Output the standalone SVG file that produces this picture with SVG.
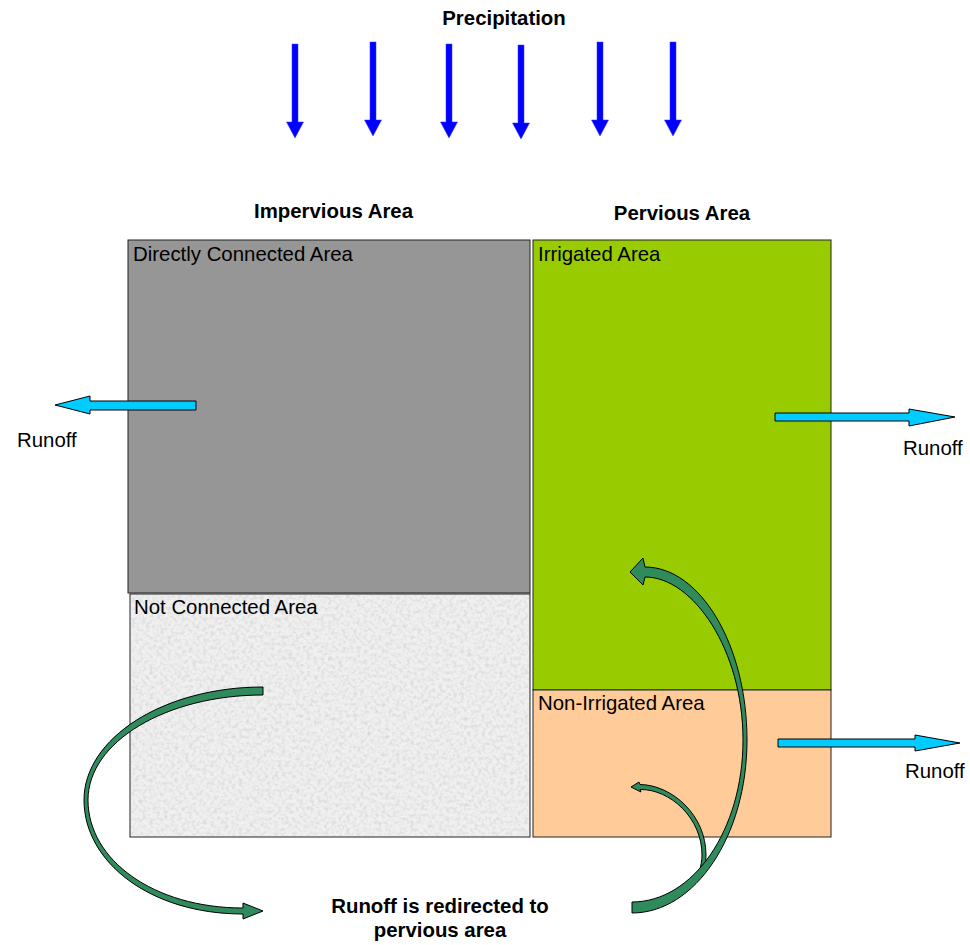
<svg xmlns="http://www.w3.org/2000/svg" width="970" height="945" viewBox="0 0 970 945">
<style>
.t{font-family:"Liberation Sans",Arial,sans-serif;font-size:20.4px;fill:#000}
.b{font-weight:bold}
.box{stroke:#222;stroke-width:1}
.rain{fill:#0000ff;stroke:#3333ff;stroke-width:0.5}
.run{fill:#00ccff;stroke:#000;stroke-width:1}
.curve{fill:#2f8a5c;stroke:#000;stroke-width:1}
</style>
<defs>
<filter id="noise" x="0" y="0" width="100%" height="100%">
<feTurbulence type="fractalNoise" baseFrequency="0.28" numOctaves="3" seed="7" result="n"/>
<feColorMatrix in="n" type="matrix" values="0 0 0 0 0.6  0 0 0 0 0.6  0 0 0 0 0.6  1.4 0 0 0 -0.58"/>
</filter>
<path id="drop" d="M-3,0 L3,0 L3,78 L8.5,78 L0,94 L-8.5,78 L-3,78 Z"/>
</defs>

<g id="precipitation">
<text class="t b" x="504" y="25" text-anchor="middle">Precipitation</text>
<use href="#drop" class="rain" x="295" y="44"/>
<use href="#drop" class="rain" x="373" y="42"/>
<use href="#drop" class="rain" x="449" y="44"/>
<use href="#drop" class="rain" x="521" y="45"/>
<use href="#drop" class="rain" x="600" y="42"/>
<use href="#drop" class="rain" x="673" y="42"/>
</g>

<g id="titles">
<text class="t b" x="333.5" y="218" text-anchor="middle">Impervious Area</text>
<text class="t b" x="682" y="220" text-anchor="middle">Pervious Area</text>
</g>

<g id="directly-connected">
<rect class="box" x="128" y="240" width="402" height="353" fill="#969696"/>
<text class="t" x="133" y="261">Directly Connected Area</text>
</g>

<g id="not-connected">
<rect class="box" x="130" y="594" width="400" height="243" fill="#f0f0f0"/>
<rect x="131" y="595" width="398" height="241" fill="#fff" filter="url(#noise)"/>
<text class="t" x="134" y="614">Not Connected Area</text>
</g>

<g id="irrigated">
<rect class="box" x="533" y="240" width="298" height="450" fill="#99cc00"/>
<text class="t" x="538" y="261">Irrigated Area</text>
</g>

<g id="non-irrigated">
<rect class="box" x="533" y="690" width="298" height="147" fill="#ffcc99"/>
<text class="t" x="538" y="710">Non-Irrigated Area</text>
</g>

<g id="connectors">
<path class="run" d="M196,401 L90,401 L90,396 L55,405 L90,414 L90,410 L196,410 Z"/>
<path class="run" d="M775,413 L909,413 L909,409 L955,417 L909,426 L909,421 L775,421 Z"/>
<path class="run" d="M778,739 L915,739 L915,735 L960,743 L915,751 L915,747 L778,747 Z"/>
<path class="curve" d="M263,687 C164,687 84,738 84,800 C84,862 150,914 243,914 L243,919 L263,911 L243,903 L243,908 C154,908 88,860 88,800 C88,742 166,695 263,695 Z"/>
<path class="curve" d="M640,784.5 C672,785 706,815 706,855 C706,862 705,868 703,873 L699,873 C701,866 702,860 702,855 C702,818 670,789 640,789.5 L641,792 L631,787 L639,782 Z"/>
<path class="curve" d="M632,913 C695,913 747,836 747,740 C747,645 700,567 645,567 L643,558 L630,572 L643,585 L645,577 C693,577 743,650 743,740 C743,830 693,902 632,902 Z"/>
</g>

<g id="labels">
<text class="t" x="17" y="447">Runoff</text>
<text class="t" x="903" y="455">Runoff</text>
<text class="t" x="905" y="778">Runoff</text>
<text class="t b" x="440" y="913" text-anchor="middle">Runoff is redirected to</text>
<text class="t b" x="440" y="937" text-anchor="middle">pervious area</text>
</g>
</svg>
